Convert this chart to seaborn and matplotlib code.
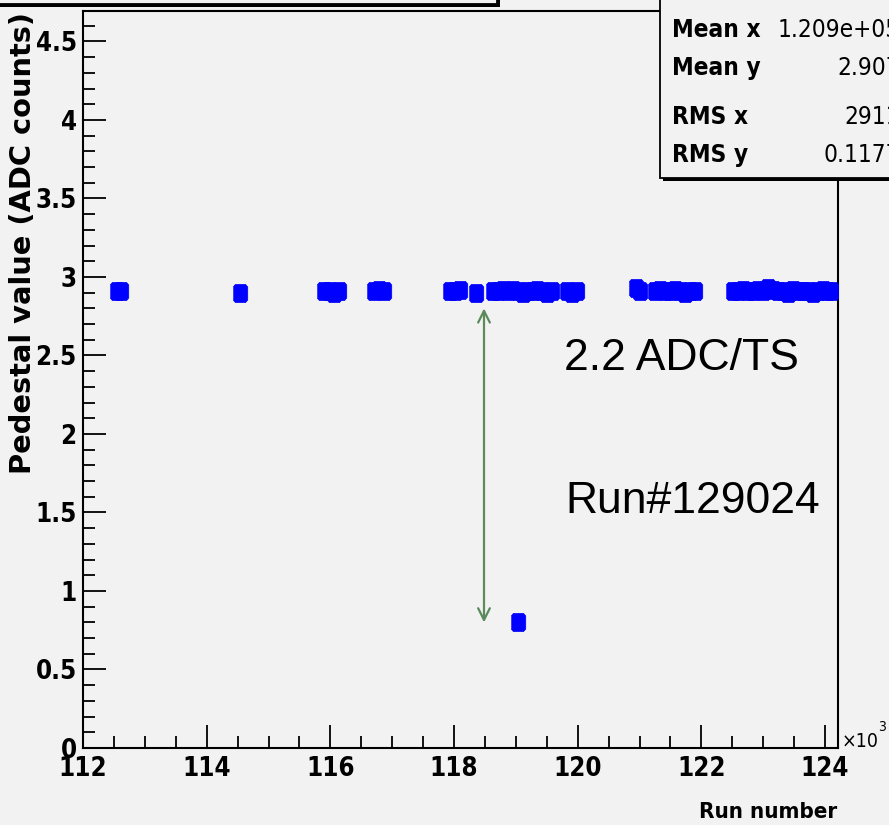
import matplotlib
matplotlib.use("Agg")
import matplotlib.pyplot as plt
from matplotlib.patches import Rectangle
from matplotlib.ticker import MultipleLocator, FormatStrFormatter
import seaborn as sns
import pandas as pd

# ---- data ----
run_numbers = [112550, 112620,
               114540,
               115900, 115980, 116060, 116140,
               116700, 116780, 116860,
               117940, 118020, 118100,
               118360,
               118630, 118710, 118790, 118870, 118950, 119030, 119110, 119190,
               119270, 119350, 119430, 119510, 119590,
               119830, 119910, 119990,
               120950, 121010,
               121250, 121330, 121410, 121490, 121570, 121650, 121730, 121810, 121900,
               122520, 122600, 122680, 122760, 122840, 122920, 123000, 123080,
               123160, 123240, 123320, 123400, 123480, 123560, 123640, 123720,
               123800, 123880, 123960, 124040, 124100,
               119040]
pedestals = [2.91, 2.91,
             2.90,
             2.91, 2.91, 2.90, 2.91,
             2.91, 2.92, 2.91,
             2.91, 2.91, 2.92,
             2.90,
             2.91, 2.91, 2.92, 2.91, 2.92, 2.91, 2.90, 2.91,
             2.91, 2.92, 2.91, 2.90, 2.91,
             2.91, 2.90, 2.91,
             2.93, 2.91,
             2.91, 2.92, 2.91, 2.91, 2.92, 2.91, 2.90, 2.91, 2.91,
             2.91, 2.91, 2.92, 2.91, 2.91, 2.92, 2.91, 2.93,
             2.92, 2.91, 2.91, 2.90, 2.92, 2.91, 2.91, 2.91,
             2.90, 2.91, 2.92, 2.91, 2.91,
             0.80]

stat_labels = ["Entries", "Mean x", "Mean y", "RMS x", "RMS y"]
stat_values = ["326", "1.209e+05", "2.907", "2911", "0.1177"]

annot_step = "2.2 ADC/TS"
annot_run = "Run#129024"
arrow_x_run = 118485
arrow_y_top = 2.80
arrow_y_bottom = 0.80

x_label = "Run number"
y_label = "Pedestal value (ADC counts)"

# ---- style ----
sns.set_theme(style="ticks")
BG = "#f2f2f2"
NARROW = ["DejaVu Sans Condensed", "DejaVu Sans"]
HELV = ["Liberation Sans", "DejaVu Sans"]
plt.rcParams["font.family"] = HELV
plt.rcParams["figure.facecolor"] = BG
plt.rcParams["axes.facecolor"] = BG
plt.rcParams["text.color"] = "black"
plt.rcParams["axes.labelcolor"] = "black"
plt.rcParams["xtick.color"] = "black"
plt.rcParams["ytick.color"] = "black"
plt.rcParams["xtick.labelcolor"] = "black"
plt.rcParams["ytick.labelcolor"] = "black"

W, H = 889, 825
fig = plt.figure(figsize=(W / 100, H / 100), dpi=100)
left, right, bottom, top = 83, 838, 748, 11
ax = fig.add_axes([left / W, 1 - bottom / H, (right - left) / W, (bottom - top) / H])

# rounded, slightly tall marker like ROOT's rendered square
blob = [(-0.4, -0.36), (-0.28, -0.5), (0.28, -0.5), (0.4, -0.36),
        (0.4, 0.36), (0.28, 0.5), (-0.28, 0.5), (-0.4, 0.36)]

df = pd.DataFrame({"run_k": [r / 1000 for r in run_numbers], "ped": pedestals})
sns.scatterplot(data=df, x="run_k", y="ped", ax=ax, marker=blob, s=170,
                color="#0000ff", edgecolor="#0000ff", linewidth=0.5, zorder=3)

ax.set_xlim(112, 124.21)
ax.set_ylim(0, 4.694)
ax.set_xlabel("")
ax.set_ylabel("")

ax.xaxis.set_major_locator(MultipleLocator(2))
ax.xaxis.set_minor_locator(MultipleLocator(0.5))
ax.yaxis.set_major_locator(MultipleLocator(0.5))
ax.yaxis.set_minor_locator(MultipleLocator(0.1))
ax.xaxis.set_major_formatter(FormatStrFormatter("%d"))
ax.yaxis.set_major_formatter(FormatStrFormatter("%g"))

for s in ax.spines.values():
    s.set_linewidth(1.5)
    s.set_color("black")

ax.tick_params(axis="both", which="major", direction="in", length=16.5, width=1.3,
               color="black", labelcolor="black", top=False, right=False)
ax.tick_params(axis="both", which="minor", direction="in", length=8.5, width=1.3,
               color="black", top=False, right=False)
ax.tick_params(axis="y", which="major", pad=4.5)
ax.tick_params(axis="x", which="major", pad=6)
for lab in ax.get_xticklabels() + ax.get_yticklabels():
    lab.set_fontfamily(NARROW)
    lab.set_fontstretch("condensed")
    lab.set_fontweight("bold")
    lab.set_fontsize(18.5)
    lab.set_color("black")

# arrow + annotations
ax.annotate("", xy=(arrow_x_run / 1000, arrow_y_bottom), xytext=(arrow_x_run / 1000, arrow_y_top),
            arrowprops=dict(arrowstyle="<->,head_length=0.7,head_width=0.35",
                            color="#5b8a5b", lw=1.6, shrinkA=0, shrinkB=0), zorder=4)
ax.text(119.78, 2.41, annot_step, fontsize=32, family=HELV,
        ha="left", va="baseline", color="black", clip_on=False)
ax.text(119.8, 1.497, annot_run, fontsize=32, family=HELV,
        ha="left", va="baseline", color="black", clip_on=False)

# axis titles (ROOT style)
fig.text(23 / W, 1 - 12 / H, y_label, rotation=90, ha="center", va="top",
         fontsize=20.8, fontweight="bold", family=["DejaVu Sans"], color="black")
fig.text(837 / W, 1 - 818 / H, x_label, ha="right", va="baseline",
         fontsize=16, fontweight="bold", family=NARROW, fontstretch="condensed", color="black")
fig.text(842 / W, 1 - 747 / H, "\u00d710", ha="left", va="baseline", fontsize=14,
         family=NARROW, fontstretch="condensed", color="black")
fig.text(878 / W, 1 - 731 / H, "3", ha="left", va="baseline", fontsize=10,
         family=NARROW, fontstretch="condensed", color="black")

tf = fig.transFigure
# title box (mostly off-canvas): shadow then box
fig.add_artist(Rectangle((-10 / W, 1 - 7 / H), 510 / W, 0.1, transform=tf,
                         facecolor="black", edgecolor="none", zorder=5))
fig.add_artist(Rectangle((-10 / W, 1 - 4 / H), 507 / W, 0.1, transform=tf,
                         facecolor=BG, edgecolor="black", linewidth=1.3, zorder=6))

# stats box: shadow then box
fig.add_artist(Rectangle((663 / W, 1 - 181 / H), 0.5, 0.5, transform=tf,
                         facecolor="black", edgecolor="none", zorder=5))
fig.add_artist(Rectangle((660 / W, 1 - 178 / H), 0.5, 0.5, transform=tf,
                         facecolor=BG, edgecolor="black", linewidth=1.3, zorder=6))
row_y = [-8, 30, 68, 117, 155]
for lab, val, yy in zip(stat_labels, stat_values, row_y):
    fig.text(672 / W, 1 - yy / H, lab, ha="left", va="center", fontsize=17.5,
             fontweight="bold", family=NARROW, fontstretch="condensed", zorder=7, color="black")
    fig.text(900 / W, 1 - yy / H, val, ha="right", va="center", fontsize=17.5,
             family=NARROW, fontstretch="condensed", zorder=7, color="black")

fig.savefig("out.png", dpi=100, facecolor=BG)
